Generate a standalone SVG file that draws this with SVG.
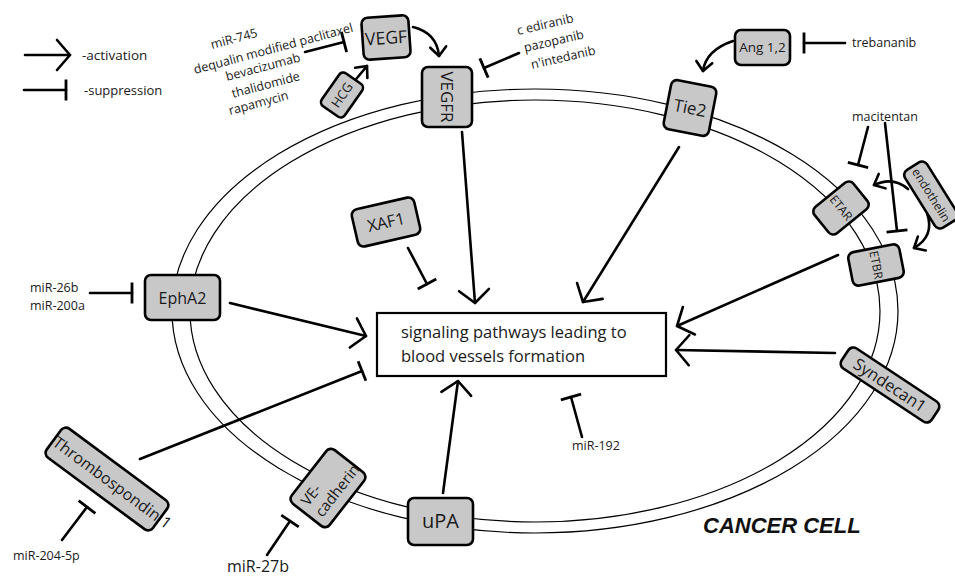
<svg xmlns="http://www.w3.org/2000/svg" width="955" height="579" viewBox="0 0 955 579">
<style>
.t{font-family:"Open Sans","Noto Sans",sans-serif;fill:#1a1a1a}
.n{fill:#c8c8c8;stroke:#000;stroke-width:2.6}
.c{fill:none;stroke:#000;stroke-width:2.6;stroke-linecap:round}
.m{fill:none;stroke:#000;stroke-width:1.2}
</style>
<defs>
<marker id="act" markerUnits="userSpaceOnUse" viewBox="-16 -18 20 36" refX="0" refY="0" markerWidth="20" markerHeight="36" orient="auto" overflow="visible"><path d="M-13,-15 L0,0 L-13,15" fill="none" stroke="#000" stroke-width="2.6" stroke-linejoin="round" stroke-linecap="round"/></marker>
<marker id="acts" markerUnits="userSpaceOnUse" viewBox="-12 -12 14 24" refX="0" refY="0" markerWidth="14" markerHeight="24" orient="auto" overflow="visible"><path d="M-9,-8 L0,0 L-9,8" fill="none" stroke="#000" stroke-width="2.6" stroke-linejoin="round" stroke-linecap="round"/></marker>
<marker id="sup" markerUnits="userSpaceOnUse" viewBox="-3 -12 6 24" refX="0" refY="0" markerWidth="6" markerHeight="24" orient="auto" overflow="visible"><path d="M0,-10.5 L0,10.5" fill="none" stroke="#000" stroke-width="2.8"/></marker>
</defs>
<rect width="955" height="579" fill="#fff"/>

<g id="membrane">
<ellipse class="m" cx="535" cy="311" rx="363" ry="222"/>
<ellipse class="m" cx="535" cy="311" rx="345" ry="211"/>
</g>

<g id="legend">
<path class="c" d="M25,55 L70,55" marker-end="url(#act)"/>
<path class="c" d="M24,90 L66,90" marker-end="url(#sup)"/>
<text class="t" x="82" y="60" font-size="13.5">-activation</text>
<text class="t" x="84" y="95" font-size="13">-suppression</text>
</g>

<g id="connectors">
<path class="c" d="M305,52 L344,42" marker-end="url(#sup)"/>
<path class="c" d="M352,84 L367,66" marker-end="url(#acts)"/>
<path class="c" d="M413,27 Q437,33 439,56" marker-end="url(#acts)"/>
<path class="c" d="M519,53 L484,68" marker-end="url(#sup)"/>
<path class="c" d="M845,43 L804,43" marker-end="url(#sup)"/>
<path class="c" d="M733,41 Q706,50 703,71" marker-end="url(#acts)"/>
<path class="c" d="M868,127 L858,165" marker-end="url(#sup)"/>
<path class="c" d="M885,123 L897,231" marker-end="url(#sup)"/>
<path class="c" d="M908,189 Q893,176 874,185" marker-end="url(#acts)"/>
<path class="c" d="M927,213 Q935,236 914,248" marker-end="url(#acts)"/>
<path class="c" d="M462,132 L475,303" marker-end="url(#act)"/>
<path class="c" d="M679,147 L583,302" marker-end="url(#act)"/>
<path class="c" d="M408,248 L427,284" marker-end="url(#sup)"/>
<path class="c" d="M230,303 L366,336" marker-end="url(#act)"/>
<path class="c" d="M90,293 L132,293" marker-end="url(#sup)"/>
<path class="c" d="M140,459 L362,371" marker-end="url(#sup)"/>
<path class="c" d="M62,540 L87,507" marker-end="url(#sup)"/>
<path class="c" d="M267,555 L290,521" marker-end="url(#sup)"/>
<path class="c" d="M443,493 L458,381" marker-end="url(#act)"/>
<path class="c" d="M582,437 L571,397" marker-end="url(#sup)"/>
<path class="c" d="M838,255 L677,326" marker-end="url(#act)"/>
<path class="c" d="M835,353 L676,350" marker-end="url(#act)"/>
</g>

<g id="drugs-vegf" class="t" font-size="12.5">
<text transform="translate(212,49) rotate(-15)">miR-745</text>
<text transform="translate(195,74) rotate(-15)">dequalin modified paclitaxel</text>
<text transform="translate(227,81) rotate(-15)">bevacizumab</text>
<text transform="translate(233,98) rotate(-15)">thalidomide</text>
<text transform="translate(230,115) rotate(-15)">rapamycin</text>
</g>
<g id="drugs-vegfr" class="t" font-size="12.5">
<text transform="translate(518,35) rotate(-13)">c ediranib</text>
<text transform="translate(525,52) rotate(-13)">pazopanib</text>
<text transform="translate(532,69) rotate(-13)">n'intedanib</text>
</g>
<text id="lbl-trebananib" class="t" x="852" y="47" font-size="12.5">trebananib</text>
<text id="lbl-macitentan" class="t" x="852" y="121" font-size="12.5">macitentan</text>
<g id="lbl-mir26b" class="t" font-size="12.5">
<text x="30" y="292">miR-26b</text>
<text x="30" y="310">miR-200a</text>
</g>
<text id="lbl-mir204" class="t" x="13" y="560" font-size="12.5">miR-204-5p</text>
<text id="lbl-mir27b" class="t" x="227" y="572" font-size="16">miR-27b</text>
<text id="lbl-mir192" class="t" x="572" y="450" font-size="12.5">miR-192</text>
<text id="lbl-cancer" x="703" y="533" font-family="'Liberation Sans',Arial,sans-serif" font-size="22" font-weight="bold" font-style="italic" fill="#111">CANCER CELL</text>

<g id="node-target">
<rect x="377" y="313" width="289" height="63" fill="#fff" stroke="#000" stroke-width="2.2"/>
<text class="t" x="401" y="338" font-size="16.5">signaling pathways leading to</text>
<text class="t" x="401" y="362" font-size="16.5">blood vessels formation</text>
</g>

<g id="node-vegf" transform="translate(386,37.5) rotate(-4)">
<rect class="n" x="-23.5" y="-21" width="47" height="42" rx="6"/>
<text class="t" x="0" y="6.5" font-size="17.5" text-anchor="middle">VEGF</text>
</g>
<g id="node-hcg" transform="translate(342,95) rotate(-55)">
<rect class="n" x="-20" y="-14" width="40" height="28" rx="5"/>
<text class="t" x="0" y="4.5" font-size="13" text-anchor="middle">HCG</text>
</g>
<g id="node-vegfr" transform="translate(447,97)">
<rect class="n" x="-25" y="-30" width="50" height="60" rx="6"/>
<text class="t" transform="rotate(90)" x="0" y="6" font-size="17" text-anchor="middle">VEGFR</text>
</g>
<g id="node-tie2" transform="translate(690,108) rotate(11)">
<rect class="n" x="-23" y="-25" width="46" height="50" rx="6"/>
<text class="t" x="0" y="6" font-size="17" text-anchor="middle">Tie2</text>
</g>
<g id="node-ang">
<rect class="n" x="735" y="30" width="55" height="35" rx="6"/>
<text class="t" x="762.5" y="52" font-size="13.5" text-anchor="middle">Ang 1,2</text>
</g>
<g id="node-endothelin" transform="translate(931,195) rotate(58)">
<rect class="n" x="-34" y="-13" width="68" height="26" rx="6"/>
<text class="t" x="0" y="4" font-size="12" text-anchor="middle">endothelin</text>
</g>
<g id="node-etar" transform="translate(841,208) rotate(51)">
<rect class="n" x="-17" y="-25" width="34" height="50" rx="6"/>
<text class="t" x="0" y="4" font-size="12" text-anchor="middle">ETAR</text>
</g>
<g id="node-etbr" transform="translate(876,265) rotate(79)">
<rect class="n" x="-17" y="-26" width="34" height="52" rx="6"/>
<text class="t" x="0" y="4" font-size="12" text-anchor="middle">ETBR</text>
</g>
<g id="node-xaf1" transform="translate(386,222) rotate(-13)">
<rect class="n" x="-32" y="-19" width="64" height="38" rx="6"/>
<text class="t" x="0" y="6" font-size="16.5" text-anchor="middle">XAF1</text>
</g>
<g id="node-epha2">
<rect class="n" x="145" y="275" width="75" height="45" rx="6"/>
<text class="t" x="182.5" y="303.5" font-size="16" text-anchor="middle">EphA2</text>
</g>
<g id="node-thrombospondin" transform="translate(107,479) rotate(36.5)">
<rect class="n" x="-66" y="-18" width="132" height="36" rx="6"/>
<text class="t" x="-65" y="5.5" font-size="16">Thrombospondin 1</text>
</g>
<g id="node-vecadherin" transform="translate(328,488) rotate(-52)">
<rect class="n" x="-34" y="-24" width="68" height="48" rx="6"/>
<text class="t" x="-27" y="-4" font-size="15">VE-</text>
<text class="t" x="-27" y="14" font-size="15">cadherin</text>
</g>
<g id="node-upa">
<rect class="n" x="408" y="498" width="65" height="47" rx="6"/>
<text class="t" x="440.5" y="528" font-size="20" text-anchor="middle">uPA</text>
</g>
<g id="node-syndecan" transform="translate(890,385) rotate(33.5)">
<rect class="n" x="-54" y="-12" width="108" height="24" rx="6"/>
<text class="t" x="0" y="6" font-size="16.5" text-anchor="middle">Syndecan1</text>
</g>
</svg>
